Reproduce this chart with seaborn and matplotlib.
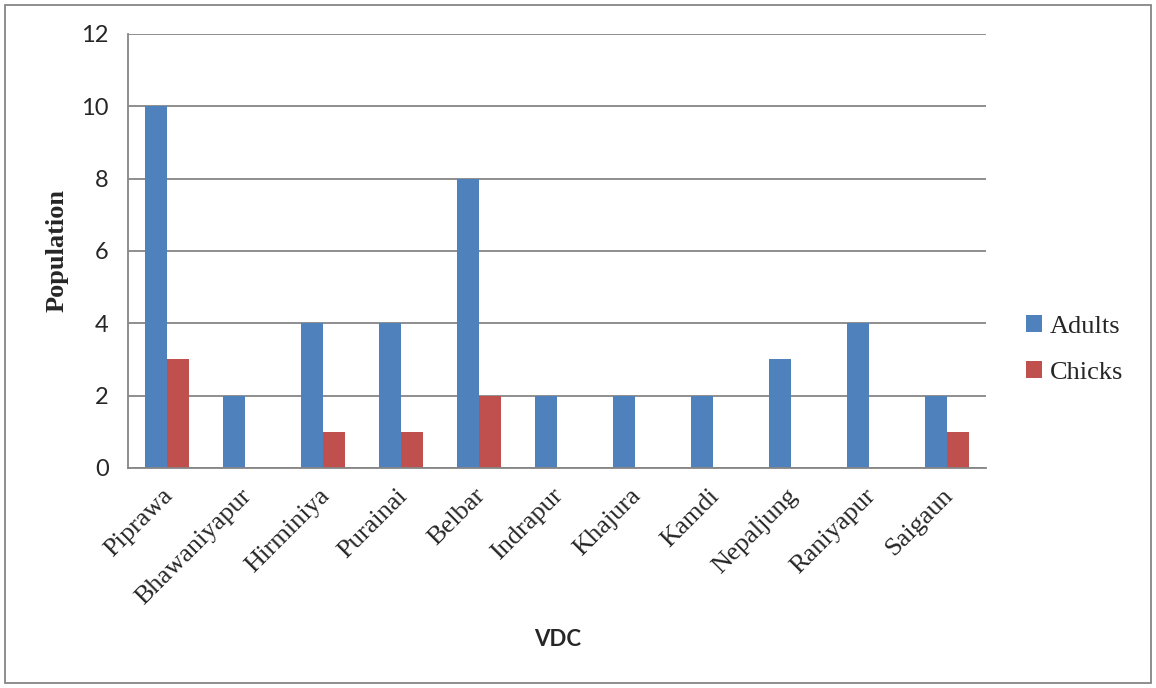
import matplotlib
matplotlib.use("Agg")
import matplotlib.pyplot as plt
import matplotlib.transforms as mtransforms
import seaborn as sns
import pandas as pd
from matplotlib.patches import Patch, Rectangle

# Population counts per VDC
vdcs = ["Piprawa", "Bhawaniyapur", "Hirminiya", "Purainai", "Belbar", "Indrapur",
        "Khajura", "Kamdi", "Nepaljung", "Raniyapur", "Saigaun"]
adults = [10, 2, 4, 4, 8, 2, 2, 2, 3, 4, 2]
chicks = [3, 0, 1, 1, 2, 0, 0, 0, 0, 0, 1]
y_ticks = [0, 2, 4, 6, 8, 10, 12]

groups = ["Adults", "Chicks"]
colors = {"Adults": "#4F81BD", "Chicks": "#C0504D"}

df = pd.DataFrame({
    "VDC": vdcs * 2,
    "Population": adults + chicks,
    "Group": [groups[0]] * len(vdcs) + [groups[1]] * len(vdcs),
})

sns.set_style("white")
fig = plt.figure(figsize=(11.56, 6.88), dpi=100)
ax = fig.add_axes([0.1107, 0.3198, 0.7423, 0.6308])

sns.barplot(data=df, x="VDC", y="Population", hue="Group", palette=colors,
            width=0.57, saturation=1, ax=ax, legend=False, linewidth=0)

ax.set_ylim(0, 12)
ax.set_xlim(-0.5, len(vdcs) - 0.5)
ax.set_yticks(y_ticks)
ax.yaxis.grid(True, color="#868686", linewidth=1.3)
ax.set_axisbelow(True)
for s in ["top", "right"]:
    ax.spines[s].set_visible(False)
for s in ["left", "bottom"]:
    ax.spines[s].set_color("#868686")
    ax.spines[s].set_linewidth(1.3)

ax.tick_params(axis="y", length=6, width=1.3, color="#868686", pad=8,
               labelsize=17)
for lab in ax.get_yticklabels():
    lab.set_family("Lato")
ax.tick_params(axis="x", length=0, pad=12)
ax.set_xticks(range(len(vdcs)))
ax.set_xticklabels(vdcs, rotation=45, ha="right", rotation_mode="anchor",
                   family="Liberation Serif", fontsize=19)
shift = mtransforms.ScaledTranslation(-5 / 100, 0, fig.dpi_scale_trans)
for lab in ax.get_xticklabels():
    lab.set_transform(lab.get_transform() + shift)

ax.set_ylabel("")
ax.set_xlabel("")
fig.text(0.049, 0.636, "Population", family="Liberation Serif",
         fontweight="bold", fontsize=19, rotation=90, ha="center", va="center")
fig.text(0.482, 0.07, "VDC", family="Lato", fontweight="bold",
         fontsize=16, ha="center", va="center")

handles = [Patch(facecolor=colors[g], edgecolor="none", label=g) for g in groups]
leg = fig.legend(handles=handles, loc="center left",
                 bbox_to_anchor=(0.867, 0.492), frameon=False,
                 prop={"family": "Liberation Serif", "size": 19},
                 handlelength=0.6, handleheight=0.6, handletextpad=0.3,
                 labelspacing=0.9)

# Outer chart frame
fig.patches.append(Rectangle((0.0045, 0.007), 0.991, 0.986,
                             transform=fig.transFigure, fill=False,
                             edgecolor="#868686", linewidth=1.3))

fig.savefig("out.png", dpi=100)
